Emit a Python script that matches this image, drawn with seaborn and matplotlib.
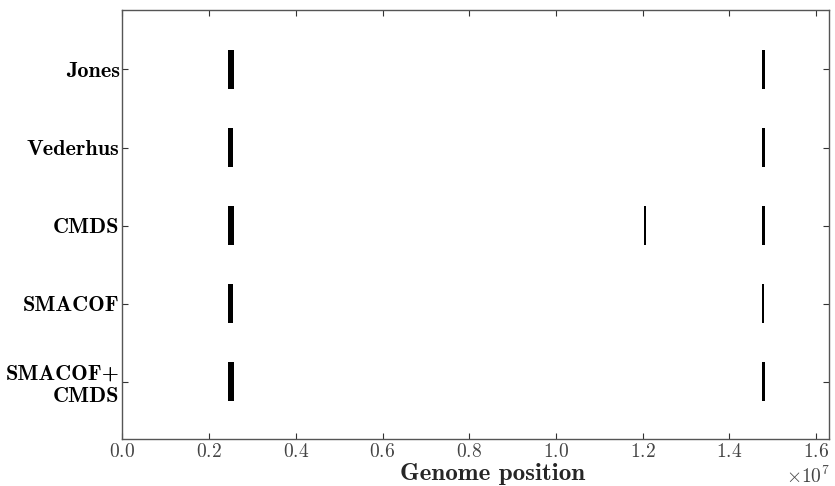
import matplotlib
matplotlib.use("Agg")
import matplotlib.pyplot as plt
import seaborn as sns
import pandas as pd

# ---- data ----
methods = ["Jones", "Vederhus", "CMDS", "SMACOF", "SMACOF+\nCMDS"]
# intervals (start, end) in genome position for each method
interval_method = ["Jones", "Jones",
                   "Vederhus", "Vederhus",
                   "CMDS", "CMDS", "CMDS",
                   "SMACOF", "SMACOF",
                   "SMACOF+\nCMDS", "SMACOF+\nCMDS"]
interval_start = [2.440e6, 1.4745e7,
                  2.445e6, 1.4745e7,
                  2.440e6, 1.2035e7, 1.4745e7,
                  2.440e6, 1.4745e7,
                  2.440e6, 1.4745e7]
interval_end = [2.565e6, 1.4815e7,
                2.555e6, 1.4815e7,
                2.565e6, 1.2070e7, 1.4815e7,
                2.540e6, 1.4810e7,
                2.565e6, 1.4815e7]
x_ticks = [0.0, 0.2e7, 0.4e7, 0.6e7, 0.8e7, 1.0e7, 1.2e7, 1.4e7, 1.6e7]
x_max = 1.631e7

df = pd.DataFrame({"method": interval_method,
                   "start": interval_start,
                   "end": interval_end})
df["row"] = df["method"].map({m: i for i, m in enumerate(methods)})
df["width"] = df["end"] - df["start"]

# ---- style ----
sns.set_style("ticks", {
    "xtick.direction": "in", "ytick.direction": "in",
    "axes.edgecolor": "#555555",
})
plt.rcParams["font.family"] = ["cmr10", "DejaVu Serif"]
plt.rcParams["mathtext.fontset"] = "cm"
plt.rcParams["axes.formatter.use_mathtext"] = True
plt.rcParams["axes.unicode_minus"] = False

fig = plt.figure(figsize=(8.35, 4.86), dpi=100)
ax = fig.add_axes([0.1466, 0.0967, 0.8468, 0.8827])

ax.barh(df["row"], df["width"], left=df["start"], height=0.5,
        color="black", edgecolor="none", linewidth=0)

ax.set_xlim(0, x_max)
ax.set_ylim(4.73, -0.76)
ax.set_xticks(x_ticks)
ax.set_yticks(range(len(methods)))
ax.set_yticklabels(methods, fontfamily="cmb10", fontsize=16,
                   multialignment="right")
ax.tick_params(axis="both", which="both", direction="in", top=True,
               right=True, length=4, width=0.8, color="#333333", pad=2)
ax.tick_params(axis="x", labelsize=14, colors="#333333",
               labelcolor="#444444", pad=3)
ax.tick_params(axis="y", labelcolor="black")
for lab in ax.get_xticklabels():
    lab.set_fontfamily("cmr10")
ax.xaxis.get_offset_text().set_fontsize(14)
ax.xaxis.get_offset_text().set_color("#444444")
ax.set_xlabel("Genome position", fontfamily="cmb10", fontsize=18)
ax.xaxis.set_label_coords(0.524, -0.057)
for s in ax.spines.values():
    s.set_linewidth(1.0)
    s.set_color("#555555")

fig.savefig("out.png", dpi=100)
